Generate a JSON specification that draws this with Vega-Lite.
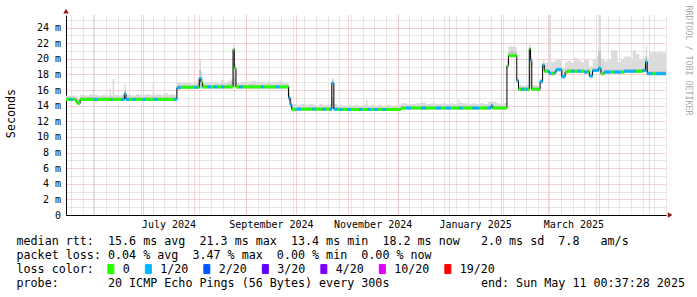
{
  "$schema": "https://vega.github.io/schema/vega-lite/v6.json",
  "width": 600,
  "height": 200,
  "autosize": {"type": "none"},
  "padding": {"left": 66, "top": 15, "right": 31, "bottom": 82},
  "background": "#ffffff",
  "config": {
    "view": {"stroke": null},
    "font": "DejaVu Sans Mono",
    "axis": {"labelFont": "DejaVu Sans Mono", "titleFont": "DejaVu Sans Mono", "labelColor": "#000000", "titleColor": "#000000", "titleFontWeight": "normal"}
  },
  "data": {"values": [
    {"d":"2024-05-16","m":14.8,"l":14.6,"q":15.05,"h":15.3,"c":"0"},
    {"d":"2024-05-18","m":14.8,"l":14.6,"q":15.05,"h":15.25,"c":"1/20"},
    {"d":"2024-05-20","m":14.8,"l":14.6,"q":15.05,"h":15.3,"c":"0"},
    {"d":"2024-05-22","m":14.5,"l":14.3,"q":14.85,"h":15.1,"c":"0"},
    {"d":"2024-05-23","m":14.3,"l":14.1,"q":14.6,"h":15.0,"c":"0"},
    {"d":"2024-05-24T12:00:00Z","m":14.8,"l":14.6,"q":15.05,"h":15.35,"c":"0"},
    {"d":"2024-05-27","m":14.8,"l":14.6,"q":15.05,"h":15.3,"c":"0"},
    {"d":"2024-05-30","m":14.8,"l":14.6,"q":15.1,"h":15.45,"c":"0"},
    {"d":"2024-06-02","m":14.8,"l":14.6,"q":15.05,"h":15.35,"c":"1/20"},
    {"d":"2024-06-04","m":14.8,"l":14.6,"q":15.05,"h":15.3,"c":"0"},
    {"d":"2024-06-07","m":14.8,"l":14.6,"q":15.1,"h":15.4,"c":"0"},
    {"d":"2024-06-10","m":14.8,"l":14.6,"q":15.05,"h":15.3,"c":"0"},
    {"d":"2024-06-11","m":14.8,"l":14.6,"q":15.2,"h":16.1,"c":"0"},
    {"d":"2024-06-12","m":14.8,"l":14.6,"q":15.05,"h":15.4,"c":"1/20"},
    {"d":"2024-06-13","m":14.8,"l":14.6,"q":15.1,"h":17.4,"c":"0"},
    {"d":"2024-06-14","m":14.8,"l":14.6,"q":15.05,"h":15.4,"c":"0"},
    {"d":"2024-06-16","m":14.8,"l":14.6,"q":15.05,"h":15.3,"c":"0"},
    {"d":"2024-06-18","m":14.8,"l":14.6,"q":15.05,"h":15.4,"c":"1/20"},
    {"d":"2024-06-20","m":15.5,"l":14.8,"q":15.9,"h":16.8,"c":"1/20"},
    {"d":"2024-06-21","m":14.8,"l":14.6,"q":15.05,"h":15.4,"c":"1/20"},
    {"d":"2024-06-23","m":14.8,"l":14.6,"q":15.05,"h":15.4,"c":"0"},
    {"d":"2024-06-25","m":14.8,"l":14.6,"q":15.05,"h":15.3,"c":"1/20"},
    {"d":"2024-06-27","m":14.8,"l":14.6,"q":15.1,"h":15.5,"c":"0"},
    {"d":"2024-06-29","m":14.8,"l":14.6,"q":15.05,"h":15.4,"c":"0"},
    {"d":"2024-07-01","m":14.8,"l":14.6,"q":15.05,"h":15.4,"c":"1/20"},
    {"d":"2024-07-03","m":14.8,"l":14.6,"q":15.1,"h":15.5,"c":"0"},
    {"d":"2024-07-05","m":14.8,"l":14.6,"q":15.05,"h":15.4,"c":"0"},
    {"d":"2024-07-07","m":14.8,"l":14.6,"q":15.2,"h":17.0,"c":"0"},
    {"d":"2024-07-08","m":14.8,"l":14.6,"q":15.05,"h":15.4,"c":"1/20"},
    {"d":"2024-07-10","m":14.8,"l":14.6,"q":15.1,"h":15.5,"c":"0"},
    {"d":"2024-07-12","m":14.8,"l":14.6,"q":15.05,"h":15.4,"c":"0"},
    {"d":"2024-07-14","m":14.8,"l":14.6,"q":15.1,"h":15.6,"c":"0"},
    {"d":"2024-07-16","m":14.8,"l":14.6,"q":15.05,"h":15.4,"c":"0"},
    {"d":"2024-07-18","m":14.8,"l":14.6,"q":15.1,"h":15.5,"c":"0"},
    {"d":"2024-07-20","m":14.8,"l":14.6,"q":15.05,"h":15.4,"c":"1/20"},
    {"d":"2024-07-21T14:00:00Z","m":16.3,"l":16.1,"q":16.6,"h":17.0,"c":"1/20"},
    {"d":"2024-07-24","m":16.35,"l":16.15,"q":16.6,"h":16.9,"c":"0"},
    {"d":"2024-07-27","m":16.35,"l":16.15,"q":16.6,"h":17.0,"c":"0"},
    {"d":"2024-07-30","m":16.35,"l":16.15,"q":16.6,"h":16.8,"c":"0"},
    {"d":"2024-08-01","m":16.35,"l":16.15,"q":16.6,"h":16.9,"c":"1/20"},
    {"d":"2024-08-03","m":16.35,"l":16.15,"q":16.9,"h":17.5,"c":"0"},
    {"d":"2024-08-04","m":17.5,"l":16.3,"q":18.6,"h":19.8,"c":"1/20"},
    {"d":"2024-08-05","m":17.0,"l":16.3,"q":17.6,"h":18.3,"c":"0"},
    {"d":"2024-08-06","m":16.4,"l":16.2,"q":16.65,"h":17.0,"c":"0"},
    {"d":"2024-08-09","m":16.4,"l":16.2,"q":16.65,"h":16.9,"c":"1/20"},
    {"d":"2024-08-11","m":16.4,"l":16.2,"q":16.65,"h":16.9,"c":"0"},
    {"d":"2024-08-13","m":16.4,"l":16.2,"q":16.65,"h":17.0,"c":"1/20"},
    {"d":"2024-08-15","m":16.4,"l":16.2,"q":16.65,"h":16.9,"c":"0"},
    {"d":"2024-08-17","m":16.4,"l":16.2,"q":16.7,"h":17.3,"c":"1/20"},
    {"d":"2024-08-19","m":16.4,"l":16.2,"q":16.65,"h":16.9,"c":"0"},
    {"d":"2024-08-21","m":16.4,"l":16.2,"q":16.8,"h":17.2,"c":"0"},
    {"d":"2024-08-23","m":16.4,"l":16.2,"q":17.0,"h":17.4,"c":"0"},
    {"d":"2024-08-24T06:00:00Z","m":21.2,"l":16.5,"q":18.5,"h":21.8,"c":"0"},
    {"d":"2024-08-25","m":18.8,"l":16.4,"q":17.5,"h":19.5,"c":"0"},
    {"d":"2024-08-26","m":16.4,"l":16.2,"q":16.65,"h":17.0,"c":"0"},
    {"d":"2024-08-28","m":16.4,"l":16.2,"q":16.65,"h":16.9,"c":"1/20"},
    {"d":"2024-08-30","m":16.4,"l":16.2,"q":16.65,"h":17.0,"c":"0"},
    {"d":"2024-09-01","m":16.4,"l":16.2,"q":16.65,"h":17.0,"c":"0"},
    {"d":"2024-09-03","m":16.4,"l":16.2,"q":16.7,"h":17.1,"c":"0"},
    {"d":"2024-09-05","m":16.4,"l":16.2,"q":16.7,"h":17.2,"c":"0"},
    {"d":"2024-09-07","m":16.4,"l":16.2,"q":16.65,"h":17.0,"c":"0"},
    {"d":"2024-09-10","m":16.4,"l":16.2,"q":16.65,"h":17.0,"c":"1/20"},
    {"d":"2024-09-12","m":16.4,"l":16.2,"q":16.65,"h":16.9,"c":"0"},
    {"d":"2024-09-14","m":16.4,"l":16.2,"q":16.7,"h":17.1,"c":"0"},
    {"d":"2024-09-16","m":16.4,"l":16.2,"q":16.65,"h":17.0,"c":"0"},
    {"d":"2024-09-19","m":16.4,"l":16.2,"q":16.65,"h":17.0,"c":"1/20"},
    {"d":"2024-09-21","m":16.4,"l":16.2,"q":16.7,"h":17.2,"c":"0"},
    {"d":"2024-09-23","m":16.4,"l":16.2,"q":16.65,"h":17.0,"c":"0"},
    {"d":"2024-09-25","m":16.4,"l":16.2,"q":16.65,"h":16.9,"c":"0"},
    {"d":"2024-09-26T12:00:00Z","m":15.0,"l":14.6,"q":15.6,"h":16.5,"c":"1/20"},
    {"d":"2024-09-27T12:00:00Z","m":14.1,"l":13.8,"q":14.5,"h":15.0,"c":"1/20"},
    {"d":"2024-09-28T12:00:00Z","m":13.5,"l":13.3,"q":13.8,"h":14.2,"c":"0"},
    {"d":"2024-10-01","m":13.55,"l":13.35,"q":13.8,"h":14.1,"c":"1/20"},
    {"d":"2024-10-04","m":13.55,"l":13.35,"q":13.8,"h":14.2,"c":"0"},
    {"d":"2024-10-07","m":13.55,"l":13.35,"q":13.8,"h":14.1,"c":"0"},
    {"d":"2024-10-09","m":13.55,"l":13.35,"q":13.8,"h":14.2,"c":"0"},
    {"d":"2024-10-11","m":13.55,"l":13.35,"q":13.8,"h":14.1,"c":"1/20"},
    {"d":"2024-10-13","m":13.55,"l":13.35,"q":13.8,"h":14.0,"c":"0"},
    {"d":"2024-10-15","m":13.55,"l":13.35,"q":13.8,"h":14.2,"c":"0"},
    {"d":"2024-10-17","m":13.55,"l":13.35,"q":13.8,"h":14.1,"c":"1/20"},
    {"d":"2024-10-19","m":13.55,"l":13.35,"q":13.8,"h":14.1,"c":"0"},
    {"d":"2024-10-21","m":13.55,"l":13.35,"q":13.8,"h":14.2,"c":"1/20"},
    {"d":"2024-10-22T12:00:00Z","m":16.9,"l":13.6,"q":15.0,"h":17.5,"c":"1/20"},
    {"d":"2024-10-23T18:00:00Z","m":13.55,"l":13.35,"q":13.8,"h":14.2,"c":"1/20"},
    {"d":"2024-10-26","m":13.5,"l":13.3,"q":13.75,"h":14.0,"c":"0"},
    {"d":"2024-10-27","m":13.5,"l":13.3,"q":13.75,"h":14.1,"c":"1/20"},
    {"d":"2024-10-29","m":13.5,"l":13.3,"q":13.75,"h":14.0,"c":"0"},
    {"d":"2024-11-01","m":13.5,"l":13.3,"q":13.75,"h":14.1,"c":"1/20"},
    {"d":"2024-11-03","m":13.5,"l":13.3,"q":13.75,"h":14.0,"c":"0"},
    {"d":"2024-11-05","m":13.5,"l":13.3,"q":13.75,"h":14.1,"c":"0"},
    {"d":"2024-11-08","m":13.5,"l":13.3,"q":13.75,"h":14.0,"c":"1/20"},
    {"d":"2024-11-10","m":13.5,"l":13.3,"q":13.75,"h":14.1,"c":"0"},
    {"d":"2024-11-12","m":13.5,"l":13.3,"q":13.8,"h":14.7,"c":"0"},
    {"d":"2024-11-13","m":13.5,"l":13.3,"q":13.75,"h":14.0,"c":"1/20"},
    {"d":"2024-11-15","m":13.5,"l":13.3,"q":13.75,"h":14.1,"c":"0"},
    {"d":"2024-11-17","m":13.5,"l":13.3,"q":13.75,"h":14.0,"c":"1/20"},
    {"d":"2024-11-19","m":13.5,"l":13.3,"q":13.75,"h":14.1,"c":"0"},
    {"d":"2024-11-22","m":13.5,"l":13.3,"q":13.75,"h":14.0,"c":"1/20"},
    {"d":"2024-11-24","m":13.5,"l":13.3,"q":13.75,"h":14.1,"c":"0"},
    {"d":"2024-11-27","m":13.5,"l":13.3,"q":13.75,"h":14.0,"c":"0"},
    {"d":"2024-11-30","m":13.5,"l":13.3,"q":13.75,"h":14.1,"c":"0"},
    {"d":"2024-12-03","m":13.7,"l":13.5,"q":13.95,"h":14.3,"c":"0"},
    {"d":"2024-12-06","m":13.7,"l":13.5,"q":13.95,"h":14.2,"c":"1/20"},
    {"d":"2024-12-09","m":13.7,"l":13.5,"q":13.95,"h":14.2,"c":"0"},
    {"d":"2024-12-12","m":13.7,"l":13.5,"q":13.95,"h":14.3,"c":"0"},
    {"d":"2024-12-15","m":13.7,"l":13.5,"q":14.0,"h":14.4,"c":"1/20"},
    {"d":"2024-12-18","m":13.7,"l":13.5,"q":13.95,"h":14.2,"c":"0"},
    {"d":"2024-12-21","m":13.7,"l":13.5,"q":13.95,"h":14.3,"c":"0"},
    {"d":"2024-12-24","m":13.7,"l":13.5,"q":13.95,"h":14.2,"c":"1/20"},
    {"d":"2024-12-27","m":13.7,"l":13.5,"q":13.95,"h":14.3,"c":"0"},
    {"d":"2024-12-30","m":13.7,"l":13.5,"q":13.95,"h":14.2,"c":"1/20"},
    {"d":"2025-01-02","m":13.7,"l":13.5,"q":13.95,"h":14.3,"c":"0"},
    {"d":"2025-01-04","m":13.7,"l":13.5,"q":13.95,"h":14.2,"c":"0"},
    {"d":"2025-01-06","m":13.7,"l":13.5,"q":14.0,"h":14.8,"c":"0"},
    {"d":"2025-01-07","m":13.7,"l":13.5,"q":13.95,"h":14.4,"c":"1/20"},
    {"d":"2025-01-09","m":13.7,"l":13.5,"q":13.95,"h":14.3,"c":"0"},
    {"d":"2025-01-12","m":13.7,"l":13.5,"q":13.95,"h":14.2,"c":"0"},
    {"d":"2025-01-15","m":13.7,"l":13.5,"q":13.95,"h":14.3,"c":"1/20"},
    {"d":"2025-01-17","m":13.7,"l":13.5,"q":13.95,"h":14.2,"c":"1/20"},
    {"d":"2025-01-19","m":13.7,"l":13.5,"q":13.95,"h":14.3,"c":"0"},
    {"d":"2025-01-22","m":13.7,"l":13.5,"q":13.95,"h":14.2,"c":"0"},
    {"d":"2025-01-24","m":13.7,"l":13.5,"q":14.0,"h":14.5,"c":"1/20"},
    {"d":"2025-01-26","m":14.0,"l":13.6,"q":14.2,"h":14.6,"c":"1/20"},
    {"d":"2025-01-27","m":13.7,"l":13.5,"q":14.0,"h":14.5,"c":"0"},
    {"d":"2025-01-29","m":13.7,"l":13.5,"q":13.95,"h":14.3,"c":"0"},
    {"d":"2025-01-31","m":13.7,"l":13.5,"q":13.95,"h":14.2,"c":"0"},
    {"d":"2025-02-02","m":13.7,"l":13.5,"q":13.95,"h":14.3,"c":"0"},
    {"d":"2025-02-04T14:00:00Z","m":19.1,"l":18.8,"q":19.3,"h":19.8,"c":"0"},
    {"d":"2025-02-05T12:00:00Z","m":20.4,"l":20.2,"q":20.9,"h":21.6,"c":"0"},
    {"d":"2025-02-07","m":20.4,"l":20.2,"q":21.0,"h":21.6,"c":"0"},
    {"d":"2025-02-09","m":20.4,"l":20.2,"q":20.9,"h":21.5,"c":"0"},
    {"d":"2025-02-10T12:00:00Z","m":17.2,"l":16.9,"q":17.4,"h":17.6,"c":"1/20"},
    {"d":"2025-02-11T12:00:00Z","m":16.1,"l":15.9,"q":16.35,"h":16.7,"c":"0"},
    {"d":"2025-02-13","m":16.1,"l":15.9,"q":16.35,"h":16.6,"c":"1/20"},
    {"d":"2025-02-15","m":16.1,"l":15.9,"q":16.35,"h":16.5,"c":"0"},
    {"d":"2025-02-16","m":16.1,"l":15.9,"q":16.35,"h":16.6,"c":"1/20"},
    {"d":"2025-02-17","m":16.1,"l":15.9,"q":16.35,"h":16.6,"c":"0"},
    {"d":"2025-02-18","m":21.3,"l":16.3,"q":19.0,"h":21.9,"c":"0"},
    {"d":"2025-02-18T18:00:00Z","m":19.8,"l":19.0,"q":20.0,"h":20.3,"c":"1/20"},
    {"d":"2025-02-19T12:00:00Z","m":16.1,"l":15.9,"q":16.35,"h":16.6,"c":"0"},
    {"d":"2025-02-21","m":16.1,"l":15.9,"q":16.35,"h":16.6,"c":"0"},
    {"d":"2025-02-23","m":16.1,"l":15.9,"q":16.35,"h":16.5,"c":"0"},
    {"d":"2025-02-24T12:00:00Z","m":17.1,"l":16.8,"q":17.3,"h":17.5,"c":"1/20"},
    {"d":"2025-02-26","m":19.2,"l":18.8,"q":19.4,"h":19.8,"c":"1/20"},
    {"d":"2025-02-27","m":18.4,"l":18.2,"q":18.7,"h":19.5,"c":"0"},
    {"d":"2025-03-01","m":18.4,"l":18.2,"q":18.7,"h":19.6,"c":"1/20"},
    {"d":"2025-03-02","m":18.1,"l":17.9,"q":18.5,"h":25.6,"c":"1/20"},
    {"d":"2025-03-03","m":18.1,"l":17.9,"q":18.4,"h":19.6,"c":"0"},
    {"d":"2025-03-05","m":18.2,"l":18.0,"q":18.5,"h":19.7,"c":"1/20"},
    {"d":"2025-03-06","m":18.6,"l":18.4,"q":18.9,"h":20.0,"c":"1/20"},
    {"d":"2025-03-08","m":18.6,"l":18.4,"q":18.9,"h":19.8,"c":"1/20"},
    {"d":"2025-03-09T12:00:00Z","m":17.7,"l":17.5,"q":18.0,"h":18.8,"c":"1/20"},
    {"d":"2025-03-11T12:00:00Z","m":18.3,"l":18.1,"q":18.6,"h":19.6,"c":"0"},
    {"d":"2025-03-13","m":18.4,"l":18.2,"q":18.7,"h":19.7,"c":"0"},
    {"d":"2025-03-15","m":18.4,"l":18.2,"q":18.7,"h":19.5,"c":"1/20"},
    {"d":"2025-03-17","m":18.4,"l":18.2,"q":18.7,"h":20.1,"c":"0"},
    {"d":"2025-03-19","m":18.4,"l":18.2,"q":18.7,"h":19.8,"c":"1/20"},
    {"d":"2025-03-21","m":18.4,"l":18.2,"q":18.7,"h":19.6,"c":"0"},
    {"d":"2025-03-23","m":18.3,"l":18.1,"q":18.6,"h":20.0,"c":"1/20"},
    {"d":"2025-03-25","m":18.4,"l":18.2,"q":18.7,"h":19.8,"c":"0"},
    {"d":"2025-03-26","m":17.8,"l":17.6,"q":18.1,"h":19.0,"c":"1/20"},
    {"d":"2025-03-28","m":18.5,"l":18.3,"q":18.8,"h":19.9,"c":"1/20"},
    {"d":"2025-03-30","m":18.5,"l":18.3,"q":18.8,"h":20.3,"c":"1/20"},
    {"d":"2025-03-31T12:00:00Z","m":18.8,"l":18.4,"q":21.0,"h":25.6,"c":"1/20"},
    {"d":"2025-04-02","m":18.1,"l":17.9,"q":18.4,"h":20.0,"c":"0"},
    {"d":"2025-04-04","m":18.3,"l":18.1,"q":18.6,"h":19.7,"c":"1/20"},
    {"d":"2025-04-06","m":18.3,"l":18.1,"q":18.6,"h":19.9,"c":"1/20"},
    {"d":"2025-04-08","m":18.3,"l":18.1,"q":18.6,"h":21.1,"c":"0"},
    {"d":"2025-04-10","m":18.3,"l":18.1,"q":18.6,"h":21.1,"c":"1/20"},
    {"d":"2025-04-12","m":18.3,"l":18.1,"q":18.6,"h":19.6,"c":"1/20"},
    {"d":"2025-04-14","m":18.3,"l":18.1,"q":18.6,"h":19.9,"c":"0"},
    {"d":"2025-04-16","m":18.4,"l":18.2,"q":18.7,"h":20.3,"c":"1/20"},
    {"d":"2025-04-18","m":18.4,"l":18.2,"q":18.7,"h":20.3,"c":"1/20"},
    {"d":"2025-04-20","m":18.4,"l":18.2,"q":18.7,"h":19.9,"c":"1/20"},
    {"d":"2025-04-21","m":18.4,"l":18.2,"q":18.7,"h":21.1,"c":"1/20"},
    {"d":"2025-04-23","m":18.4,"l":18.2,"q":18.7,"h":20.6,"c":"0"},
    {"d":"2025-04-25","m":18.4,"l":18.2,"q":18.7,"h":19.8,"c":"0"},
    {"d":"2025-04-27","m":18.5,"l":18.3,"q":18.8,"h":20.1,"c":"1/20"},
    {"d":"2025-04-28T18:00:00Z","m":19.6,"l":18.3,"q":20.3,"h":21.6,"c":"1/20"},
    {"d":"2025-04-29T18:00:00Z","m":18.1,"l":17.9,"q":18.4,"h":20.0,"c":"1/20"},
    {"d":"2025-05-01","m":18.1,"l":17.9,"q":18.4,"h":20.8,"c":"1/20"},
    {"d":"2025-05-03","m":18.1,"l":17.9,"q":18.4,"h":20.9,"c":"0"},
    {"d":"2025-05-05","m":18.1,"l":17.9,"q":18.4,"h":20.8,"c":"1/20"},
    {"d":"2025-05-07","m":18.1,"l":17.9,"q":18.4,"h":20.9,"c":"1/20"},
    {"d":"2025-05-09","m":18.1,"l":17.9,"q":18.4,"h":20.8,"c":"1/20"},
    {"d":"2025-05-11T00:37:28Z","m":18.1,"l":17.9,"q":18.4,"h":20.9,"c":"1/20"}
  ]},
  "resolve": {"axis": {"x": "independent", "y": "independent"}},
  "layer": [
    {
      "mark": {"type": "area", "interpolate": "step-after", "color": "#dcdcdc", "clip": true},
      "encoding": {
        "x": {"field": "d", "type": "temporal",
          "scale": {"type": "utc", "domain": [{"year": 2024, "month": 5, "date": 16, "hours": 0, "minutes": 37, "seconds": 28, "utc": true}, {"year": 2025, "month": 5, "date": 11, "hours": 0, "minutes": 37, "seconds": 28, "utc": true}]},
          "axis": {"orient": "bottom", "tickCount": "week", "grid": true, "gridColor": "#cfcfcf", "gridDash": [1, 1], "labels": false, "ticks": false, "domain": false, "title": null}},
        "y": {"field": "l", "type": "quantitative",
          "scale": {"domain": [0, 25.6], "nice": false, "zero": false},
          "axis": {"orient": "left", "values": [1, 3, 5, 7, 9, 11, 13, 15, 17, 19, 21, 23, 25], "grid": true, "gridColor": "#cfcfcf", "gridDash": [1, 1], "labels": false, "ticks": false, "domain": false, "title": null}},
        "y2": {"field": "h"}
      }
    },
    {
      "mark": {"type": "area", "interpolate": "step-after", "color": "#c2c2c2", "clip": true},
      "encoding": {
        "x": {"field": "d", "type": "temporal",
          "axis": {"orient": "bottom", "tickCount": "month", "grid": true, "gridColor": "#eaa6a6", "gridDash": [1, 1], "labels": false, "ticks": false, "domain": false, "title": null}},
        "y": {"field": "l", "type": "quantitative",
          "axis": {"orient": "left", "values": [0, 2, 4, 6, 8, 10, 12, 14, 16, 18, 20, 22, 24], "grid": true, "gridColor": "#eaa6a6", "gridDash": [1, 1],
            "labelExpr": "datum.value == 0 ? '0\u00a0\u00a0' : datum.value + '\u00a0m'",
            "labelFontSize": 10, "labelPadding": 5.5, "ticks": false, "domain": true, "domainColor": "#000000",
            "title": "Seconds", "titleFontSize": 11.7, "titleX": -56, "titleY": 98, "titleAngle": -90, "titleAlign": "center", "titleBaseline": "middle"}},
        "y2": {"field": "q"}
      }
    },
    {
      "mark": {"type": "line", "interpolate": "step-after", "color": "#000000", "strokeWidth": 1, "clip": true},
      "encoding": {
        "x": {"field": "d", "type": "temporal",
          "axis": {"orient": "bottom",
            "values": [{"year": 2024, "month": 7, "date": 16, "hours": 12, "utc": true}, {"year": 2024, "month": 9, "date": 16, "utc": true}, {"year": 2024, "month": 11, "date": 16, "utc": true}, {"year": 2025, "month": 1, "date": 16, "hours": 12, "utc": true}, {"year": 2025, "month": 3, "date": 16, "hours": 12, "utc": true}],
            "labelExpr": "utcFormat(datum.value, '%B %Y')",
            "labelFontSize": 10, "labelPadding": 4, "labelFlush": false, "labelOverlap": false,
            "grid": false, "ticks": false, "domain": true, "domainColor": "#000000",
            "title": [
              "median rtt:\u00a0\u00a015.6 ms avg\u00a0\u00a021.3 ms max\u00a0\u00a013.4 ms min\u00a0\u00a018.2 ms now\u00a0\u00a0\u00a02.0 ms sd\u00a0\u00a07.8\u00a0\u00a0\u00a0am/s",
              "packet loss: 0.04 % avg\u00a0\u00a03.47 % max\u00a0\u00a00.00 % min\u00a0\u00a00.00 % now",
              "loss color:",
              "probe:\u00a0\u00a0\u00a0\u00a0\u00a0\u00a0\u00a020 ICMP Echo Pings (56 Bytes) every 300s\u00a0\u00a0\u00a0\u00a0\u00a0\u00a0\u00a0\u00a0\u00a0\u00a0\u00a0\u00a0\u00a0end: Sun May 11 00:37:28 2025"
            ],
            "titleFontSize": 11.7, "titleAnchor": "start", "titleAlign": "left", "titleBaseline": "top",
            "titleX": -50, "titleY": 20, "titleLineHeight": 14}},
        "y": {"field": "m", "type": "quantitative",
          "axis": {"orient": "right", "labels": false, "ticks": false, "domain": false, "grid": false,
            "title": "RRDTOOL / TOBI OETIKER", "titleFontSize": 8.3, "titleColor": "#aaaaaa", "titleAngle": 90,
            "titleX": 21.5, "titleY": 45, "titleAlign": "center", "titleBaseline": "middle"}}
      }
    },
    {
      "transform": [
        {"window": [{"op": "lead", "field": "d", "as": "d2"}]},
        {"filter": "datum.d2 != null"}
      ],
      "mark": {"type": "rule", "strokeWidth": 3, "strokeCap": "butt", "clip": true},
      "encoding": {
        "x": {"field": "d", "type": "temporal", "axis": null},
        "x2": {"field": "d2"},
        "y": {"field": "m", "type": "quantitative", "axis": null},
        "color": {"field": "c", "type": "nominal",
          "scale": {"domain": ["0", "1/20", "2/20", "3/20", "4/20", "10/20", "19/20"],
                    "range": ["#26ff00", "#00b8ff", "#0059ff", "#5e00ff", "#7e00ff", "#dd00ff", "#ff0000"]},
          "legend": {"orient": "none", "legendX": 39, "legendY": 248, "direction": "horizontal", "title": null,
            "padding": 0, "symbolType": "M-0.6,-0.9H0.6V0.9H-0.6Z", "symbolSize": 100,
            "labelFont": "DejaVu Sans Mono", "labelFontSize": 11.7, "labelColor": "#000000", "labelOffset": 6,
            "columnPadding": 12.5,
            "encode": {"symbols": {"update": {"fill": {"scale": "color", "field": "value"}, "stroke": {"value": "#000000"}, "strokeWidth": {"value": 1}, "opacity": {"value": 1}}}}}}
      }
    },
    {
      "data": {"values": [
        {"d": "2024-05-16T00:37:28Z", "v": 26.1, "k": "y"},
        {"d": "2025-05-13T12:00:00Z", "v": 0, "k": "x"}
      ]},
      "mark": {"type": "point", "filled": true, "color": "#8b1a1a", "size": 30, "opacity": 1, "clip": false},
      "encoding": {
        "x": {"field": "d", "type": "temporal", "axis": null},
        "y": {"field": "v", "type": "quantitative", "axis": null},
        "shape": {"field": "k", "type": "nominal", "scale": {"domain": ["y", "x"], "range": ["triangle-up", "triangle-right"]}, "legend": null}
      }
    }
  ]
}
